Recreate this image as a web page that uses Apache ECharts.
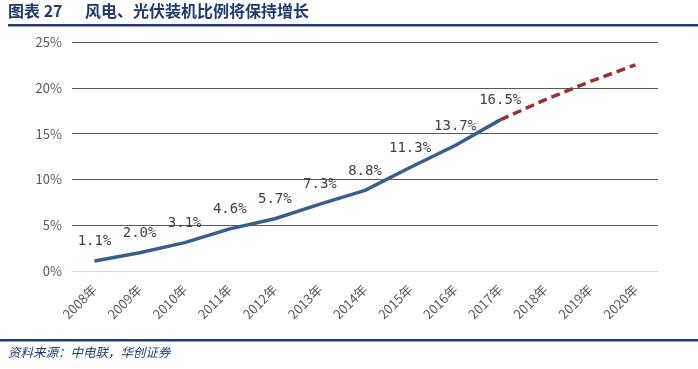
<!DOCTYPE html>
<html><head><meta charset="utf-8">
<script src="https://cdn.jsdelivr.net/npm/echarts@6/dist/echarts.min.js"></script>
<style>html,body{margin:0;padding:0;background:#fff}#c{width:698px;height:369px}</style>
</head><body><div id="c"></div>
<script>
const categories = ['2008年','2009年','2010年','2011年','2012年','2013年','2014年','2015年','2016年','2017年','2018年','2019年','2020年'];
const actualValues = [1.1, 2.0, 3.1, 4.6, 5.7, 7.3, 8.8, 11.3, 13.7, 16.5, null, null, null];
const forecastValues = [null, null, null, null, null, null, null, null, null, 16.5, 18.7, 20.7, 22.5];
const yTicks = [0, 5, 10, 15, 20, 25];

const chart = echarts.init(document.getElementById('c'));
chart.setOption({
  animation: false,
  textStyle: {fontFamily: 'Noto Sans CJK SC'},
  grid: {left: 72, right: 40, top: 42, bottom: 98},
  xAxis: {
    type: 'category', data: categories, boundaryGap: true,
    axisLine: {show: true, lineStyle: {color: '#d9d9d9', width: 1}},
    axisTick: {show: false},
    axisLabel: {rotate: 45, color: '#595959', fontSize: 13, margin: 16, interval: 0}
  },
  yAxis: {
    type: 'value', min: yTicks[0], max: yTicks[yTicks.length-1], interval: 5,
    axisLine: {show: false}, axisTick: {show: false},
    axisLabel: {formatter: '{value}%', color: '#595959', fontSize: 13, margin: 10},
    splitLine: {lineStyle: {color: '#595959', width: 1}}
  },
  series: [
    {
      type: 'line', data: actualValues, symbol: 'circle', symbolSize: 1, showSymbol: true, smooth: false,
      itemStyle: {color: '#3a5e8c'},
      lineStyle: {color: '#3a5e8c', width: 3.5},
      label: {show: true, position: 'top', distance: 12,
        formatter: function (p) { var v = Array.isArray(p.value) ? p.value[1] : p.value; return (v == null) ? '' : Number(v).toFixed(1) + '%'; },
        color: '#404040', fontSize: 14, fontFamily: 'DejaVu Sans Mono'},
      z: 3
    },
    {
      type: 'line', data: forecastValues, symbol: 'none',
      lineStyle: {color: '#9b3035', width: 3.5, type: [9, 5]},
      z: 2
    }
  ],
  graphic: [
    {type: 'text', left: 8, top: 3, style: {text: '图表 27', fill: '#1f3a6e', font: 'bold 16px "Noto Sans CJK SC"'}},
    {type: 'text', left: 85, top: 3, style: {text: '风电、光伏装机比例将保持增长', fill: '#1f3a6e', font: 'bold 16px "Noto Sans CJK SC"'}},
    {type: 'rect', shape: {x: 8, y: 24, width: 690, height: 2.5}, style: {fill: '#1f3a6e'}},
    {type: 'rect', shape: {x: 0, y: 339, width: 698, height: 2.5}, style: {fill: '#1f3a6e'}},
    {type: 'text', left: 8, top: 346, style: {text: '资料来源：中电联，华创证券', fill: '#1f3a6e', font: 'italic 12.5px "Noto Sans CJK SC"'}}
  ]
});
</script></body></html>
